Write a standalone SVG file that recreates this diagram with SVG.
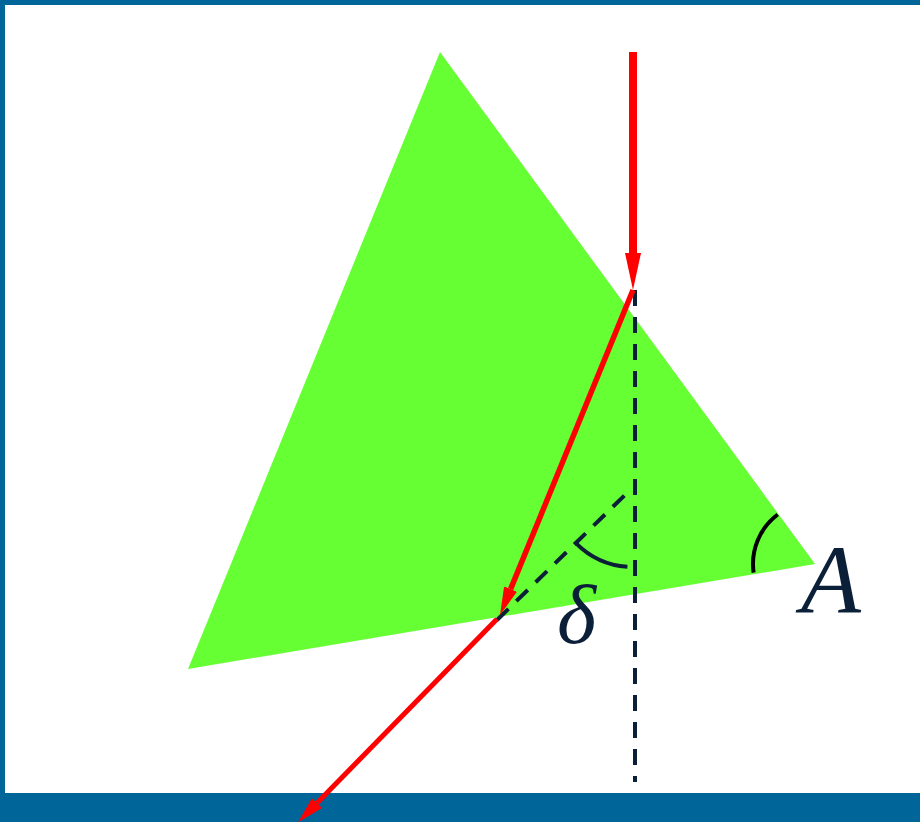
<svg xmlns="http://www.w3.org/2000/svg" width="920" height="822" viewBox="0 0 920 822">
<style>
.ray{stroke:#ff0000;fill:none}
.dash{stroke:#0b2038;stroke-width:4;fill:none;stroke-dasharray:16 11}
.arc{fill:none;stroke-width:4}
.lbl{font-family:"Liberation Serif","Times New Roman",serif;font-style:italic;fill:#0b2038}
</style>
<defs>
<marker id="ah1" markerUnits="userSpaceOnUse" viewBox="0 -8 37 16" markerWidth="37" markerHeight="16" refX="0" refY="0" orient="auto"><path d="M0,-8 L37,0 L0,8 z" fill="#ff0000"/></marker>
<marker id="ah2" markerUnits="userSpaceOnUse" viewBox="0 -7 28 14" markerWidth="28" markerHeight="14" refX="0" refY="0" orient="auto"><path d="M0,-7 L28,0 L0,7 z" fill="#ff0000"/></marker>
<marker id="ah3" markerUnits="userSpaceOnUse" viewBox="0 -7 27 14" markerWidth="27" markerHeight="14" refX="0" refY="0" orient="auto"><path d="M0,-7 L27,0 L0,7 z" fill="#ff0000"/></marker>
</defs>
<rect x="0" y="0" width="920" height="822" fill="#ffffff"/>
<g id="frame">
<rect x="0" y="0" width="920" height="5" fill="#006699"/>
<rect x="0" y="0" width="5" height="822" fill="#006699"/>
<rect x="0" y="793" width="920" height="29" fill="#006699"/>
</g>
<g id="prism">
<polygon points="440,52 815,564 188,669" fill="#66ff33"/>
</g>
<g id="connectors">
<line class="dash" x1="635" y1="290" x2="635" y2="782"/>
<line class="dash" x1="497" y1="620" x2="627" y2="493"/>
<line class="ray" x1="633" y1="52" x2="633" y2="253" stroke-width="8" marker-end="url(#ah1)"/>
<line class="ray" x1="633" y1="290" x2="510.6" y2="589.1" stroke-width="5.5" marker-end="url(#ah2)"/>
<line class="ray" x1="497" y1="619" x2="317" y2="803" stroke-width="5" marker-end="url(#ah3)"/>
</g>
<g id="angle-delta">
<path class="arc" stroke="#0b2038" d="M576.4,543.6 A80,80 0 0 0 627.4,566.8"/>
<text class="lbl" x="557" y="643" font-size="84">δ</text>
</g>
<g id="angle-A">
<path class="arc" stroke="#000000" d="M753.6,572.6 A62,62 0 0 1 777.7,514.5"/>
<text class="lbl" x="801" y="612" font-size="98">A</text>
</g>
</svg>
